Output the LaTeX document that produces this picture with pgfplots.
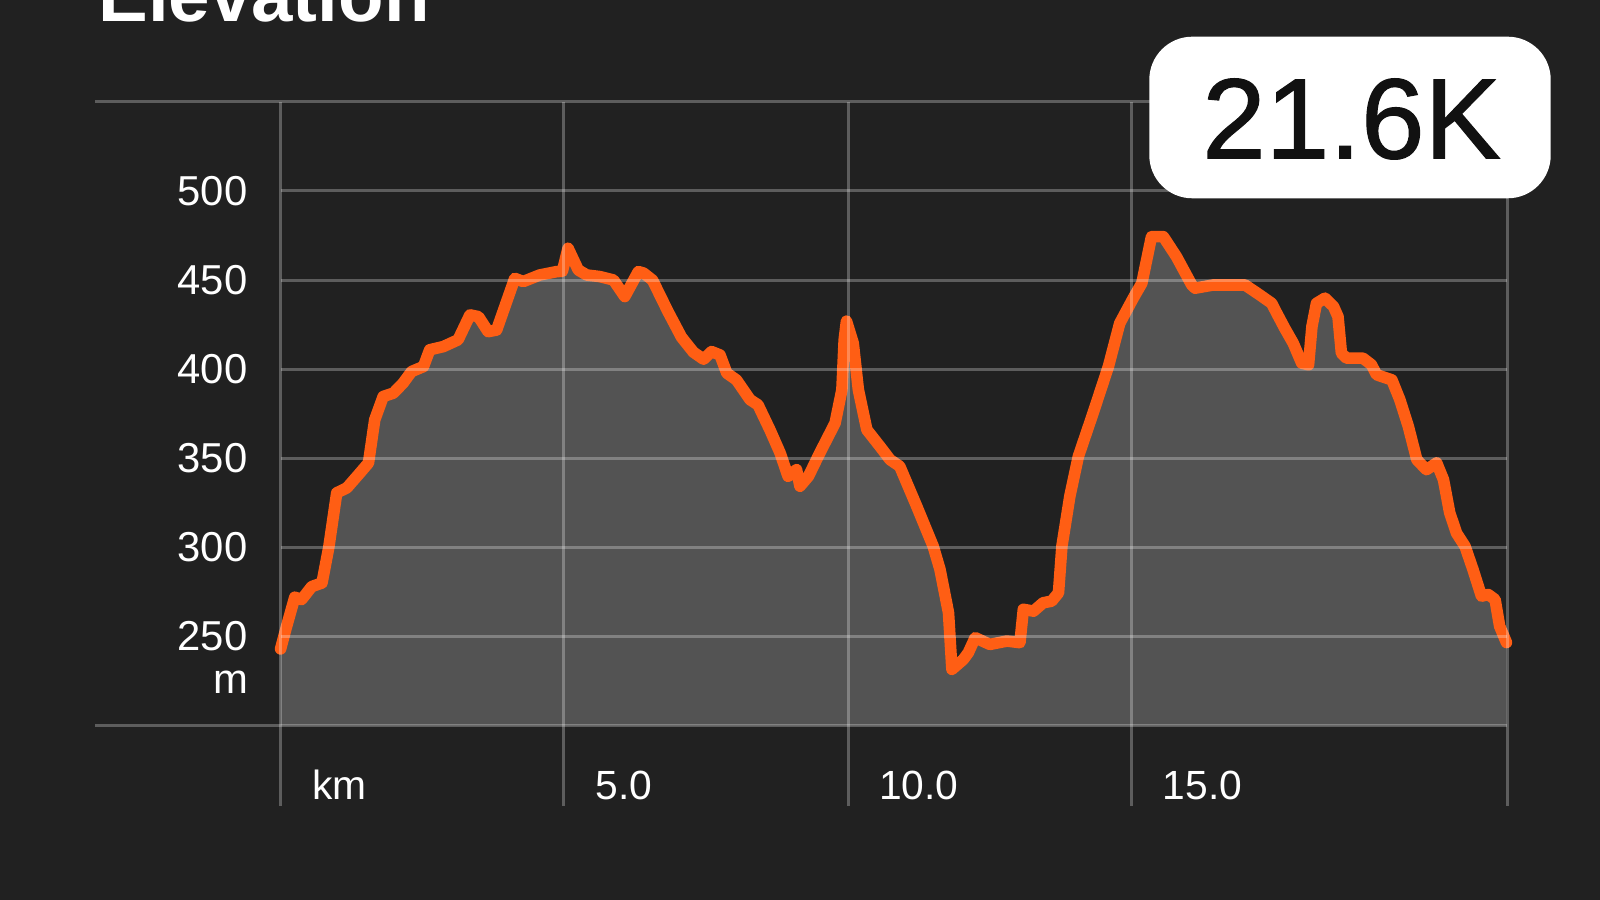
\documentclass[border=0pt]{standalone}
\usepackage{fontspec}
\setmainfont{Liberation Sans}
\newfontfamily\badgefont{Liberation Sans}[FakeBold=1.0]
\usepackage{pgfplots}
\pgfplotsset{compat=1.18}
\usepackage{pgfplotstable}
\definecolor{bg}{RGB}{33,33,33}
\definecolor{fillgray}{RGB}{83,83,83}
\definecolor{elev}{RGB}{255,94,20}
\definecolor{badgetext}{RGB}{17,17,17}
\pgfplotstableread{
km m
0.00 243
0.10 255
0.25 272
0.37 270.7
0.55 278
0.73 280
0.85 300
0.99 330.6
1.17 333.4
1.40 341.8
1.55 347.4
1.66 371.6
1.81 384.7
1.99 386.6
2.16 392.2
2.31 398.7
2.52 401.5
2.63 410.9
2.87 412.7
3.13 416.5
3.34 430.5
3.49 429.5
3.66 421.1
3.81 422
4.13 451
4.28 449.2
4.57 452.9
4.87 454.8
4.97 455
5.07 467.9
5.25 455.7
5.40 452.9
5.63 452
5.87 450.1
6.07 440.8
6.31 454.8
6.40 454
6.56 450
6.83 432.5
7.07 418
7.28 409.6
7.46 405.6
7.60 409.9
7.75 408
7.87 397.8
8.04 394
8.28 382.9
8.42 380
8.63 366
8.81 353
8.95 339.9
9.10 343.6
9.16 334.3
9.31 339.9
9.51 353
9.78 369.8
9.90 388.5
9.94 416.5
9.98 427
10.10 414.6
10.19 388.5
10.34 366
10.57 356.7
10.75 349.2
10.92 345.5
11.22 323
11.51 300.6
11.63 287.6
11.78 263.3
11.84 231.5
12.04 237
12.13 240.9
12.25 249.3
12.51 245.5
12.81 247.4
13.04 246.5
13.10 265.2
13.28 264.2
13.45 268.9
13.60 269.8
13.72 274.5
13.78 300.6
13.92 328.7
14.07 351
14.33 375.4
14.60 401.5
14.80 425.8
15.04 440
15.19 448.3
15.36 474.4
15.57 474.4
15.80 463.2
16.07 447.3
16.13 445.5
16.45 447.3
17.01 447.3
17.27 441.7
17.48 437
17.57 431.4
17.71 423
17.86 414.6
18.01 403.4
18.13 402.5
18.19 424
18.27 437
18.42 439.9
18.57 435.2
18.65 429.5
18.71 409
18.80 406.2
19.09 406.2
19.24 402.5
19.33 396.9
19.60 394
19.74 382.9
19.89 367.9
20.04 349.2
20.21 343.6
20.39 347.4
20.51 338
20.62 319.4
20.74 308
20.89 300.6
21.03 287.6
21.18 272.6
21.30 273.5
21.42 270.7
21.50 255.8
21.62 246.6
}\elevdata
\begin{document}
\begin{tikzpicture}[x=0.1mm,y=0.1mm]
\fill[bg] (0,0) rectangle (1600,900);
\node[anchor=base west, inner sep=0, text=white, font=\fontsize{21.2pt}{25pt}\selectfont\bfseries] at (97.6,878.3) {Elevation};
\begin{axis}[
  at={(28.06mm,17.45mm)}, anchor=south west,
  scale only axis, width=122.64mm, height=62.35mm,
  xmin=0, xmax=21.63, ymin=200, ymax=550,
  axis line style={draw=none}, major tick length=0, tick style={draw=none},
  xtick={0,5,10,15}, xticklabels={km,5.0,10.0,15.0},
  ytick={250,300,350,400,450,500}, yticklabels={250,300,350,400,450,500},
  xticklabel style={anchor=base west, inner sep=0pt, xshift=3.1mm, yshift=-7.45mm, text=white, font=\fontsize{11.6pt}{14pt}\selectfont},
  yticklabel style={anchor=east, inner sep=0pt, xshift=-3.26mm, text=white, font=\fontsize{11.9pt}{14pt}\selectfont},
  clip=false,
]
\addplot[fill=fillgray, draw=none] table[x=km, y=m] {\elevdata} -- (axis cs:21.62,200) -- (axis cs:0,200) -- cycle;
\addplot[elev, line width=3.3pt, line join=round, line cap=round, mark=none] table[x=km, y=m] {\elevdata};
\node[anchor=east, inner sep=0pt, text=white, font=\fontsize{11.9pt}{14pt}\selectfont, xshift=-3.16mm] at (axis cs:0,224) {m};
\end{axis}
% grid and frame lines
\begin{scope}[white, opacity=0.27, line width=0.3mm]
\draw (95,798) -- (1507,798);
\draw (95,174.5) -- (1507,174.5);
\foreach \yy in {263,352.2,441.4,530.6,619.8,709} { \draw (280.6,\yy) -- (1507,\yy); }
\foreach \xx in {280.6,563.3,848,1131.6,1507} { \draw (\xx,94) -- (\xx,798); }
\end{scope}
% badge
\fill[white, rounded corners=4.3mm] (1149.3,701.7) rectangle (1550.7,863.3);
\node[text=badgetext, inner sep=0pt, font=\fontsize{32.5pt}{38pt}\badgefont] at (1351.5,781) {21.6K};
\pgfresetboundingbox
\path[use as bounding box] (0,0) rectangle (1600,900);
\end{tikzpicture}
\end{document}
